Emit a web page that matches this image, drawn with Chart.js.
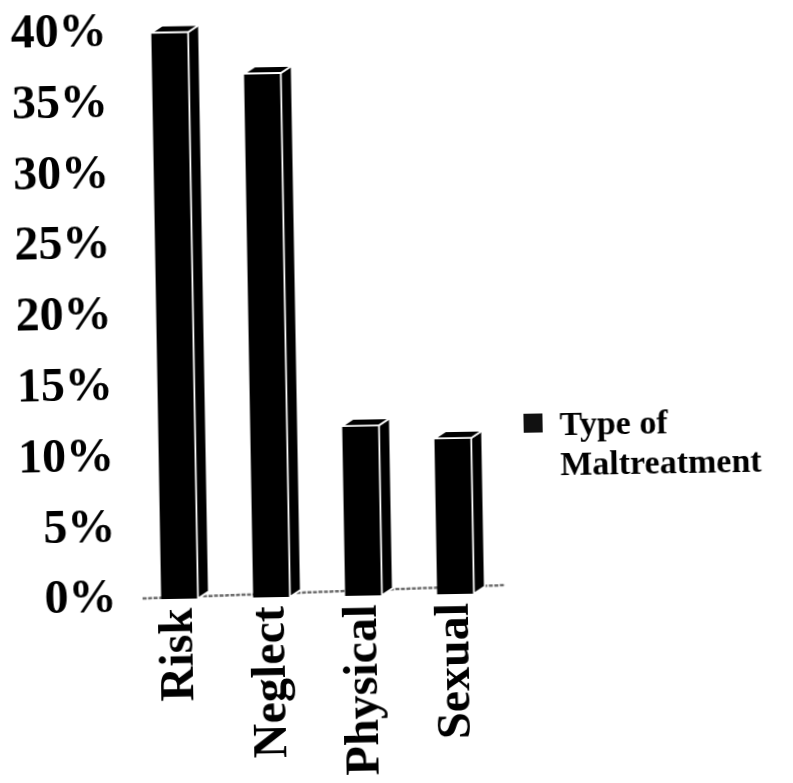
<!DOCTYPE html>
<html>
<head>
<meta charset="utf-8">
<script src="https://cdn.jsdelivr.net/npm/chart.js@4/dist/chart.umd.min.js"></script>
<style>
  html, body { margin: 0; padding: 0; background: #fff; overflow: hidden; }
  #wrap { position: absolute; left: 0; top: 0; width: 793px; height: 783px; transform: rotate(-1deg); transform-origin: 50% 50%; }
  canvas { display: block; }
</style>
</head>
<body>
<div id="wrap"><canvas id="c" width="793" height="783"></canvas></div>
<script>
// Share of cases by type of maltreatment (percent)
const categories = ['Risk', 'Neglect', 'Physical', 'Sexual'];
const shares = [40, 37, 12, 11];
const seriesName = 'Type of Maltreatment';
const legendLines = ['Type of', 'Maltreatment'];
const yMin = 0;
const yMax = 40;
const yStep = 5;

const serif = "'Liberation Serif', 'Times New Roman', serif";
const DEPTH_X = 11;
const DEPTH_Y = 7;

// Floor strip, extruded bar sides/tops, and the legend block
const bar3d = {
  id: 'bar3d',
  beforeDatasetsDraw(chart) {
    const { ctx, chartArea } = chart;
    const base = chart.scales.y.getPixelForValue(0);
    ctx.save();
    ctx.strokeStyle = '#6e6e6e';
    ctx.lineWidth = 2.5;
    ctx.setLineDash([4, 1.5]);
    ctx.beginPath();
    ctx.moveTo(chartArea.left + 9, base - 1);
    ctx.lineTo(chartArea.right + 4, base - 8);
    ctx.stroke();
    ctx.restore();
  },
  afterDatasetsDraw(chart) {
    const { ctx } = chart;
    const meta = chart.getDatasetMeta(0);
    ctx.save();
    ctx.fillStyle = '#000';
    ctx.strokeStyle = '#fff';
    ctx.lineWidth = 1.8;
    ctx.lineJoin = 'miter';
    meta.data.forEach((el) => {
      const { x, y, base, width } = el.getProps(['x', 'y', 'base', 'width'], true);
      const l = x - width / 2;
      const r = x + width / 2;
      // side face
      ctx.beginPath();
      ctx.moveTo(r, y);
      ctx.lineTo(r + DEPTH_X, y - DEPTH_Y);
      ctx.lineTo(r + DEPTH_X, base - DEPTH_Y);
      ctx.lineTo(r, base);
      ctx.closePath();
      ctx.fill();
      ctx.stroke();
      // top face
      ctx.beginPath();
      ctx.moveTo(l, y);
      ctx.lineTo(l + DEPTH_X, y - DEPTH_Y);
      ctx.lineTo(r + DEPTH_X, y - DEPTH_Y);
      ctx.lineTo(r, y);
      ctx.closePath();
      ctx.fill();
      ctx.stroke();
    });
    ctx.restore();
  },
  afterDraw(chart) {
    const { ctx } = chart;
    ctx.save();
    ctx.fillStyle = '#111';
    ctx.fillRect(523, 416, 19, 19);
    ctx.fillStyle = '#000';
    ctx.font = "bold 34px " + serif;
    ctx.textBaseline = 'alphabetic';
    ctx.textAlign = 'left';
    ctx.fillText(legendLines[0], 559, 438);
    ctx.fillText(legendLines[1], 559, 478);
    ctx.restore();
  }
};

new Chart(document.getElementById('c'), {
  type: 'bar',
  data: {
    labels: categories,
    datasets: [{
      label: seriesName,
      data: shares,
      backgroundColor: '#000',
      borderWidth: 0,
      categoryPercentage: 1,
      barPercentage: 0.4
    }]
  },
  options: {
    responsive: false,
    animation: false,
    devicePixelRatio: 1,
    layout: { padding: { top: 28.5, right: 295, bottom: 0, left: 0 } },
    plugins: {
      legend: { display: false },
      tooltip: { enabled: false }
    },
    scales: {
      x: {
        grid: { display: false, drawTicks: false },
        border: { display: false },
        ticks: {
          autoSkip: false,
          minRotation: 90,
          maxRotation: 90,
          padding: 9,
          color: '#000',
          font: { family: serif, size: 48, weight: 'bold', lineHeight: 1 }
        },
        afterFit(scale) {
          scale.height = 188;
          scale.paddingLeft = 0;
          scale.paddingRight = 0;
        }
      },
      y: {
        min: yMin,
        max: yMax,
        grid: { display: false, drawTicks: false },
        border: { display: false },
        ticks: {
          stepSize: yStep,
          padding: 17,
          color: '#000',
          font: { family: serif, size: 48, weight: 'bold', lineHeight: 1 },
          callback: (v) => v + '%'
        },
        afterFit(scale) {
          scale.width = 130;
          scale.paddingTop = 0;
          scale.paddingBottom = 0;
        }
      }
    }
  },
  plugins: [bar3d]
});
</script>
</body>
</html>
